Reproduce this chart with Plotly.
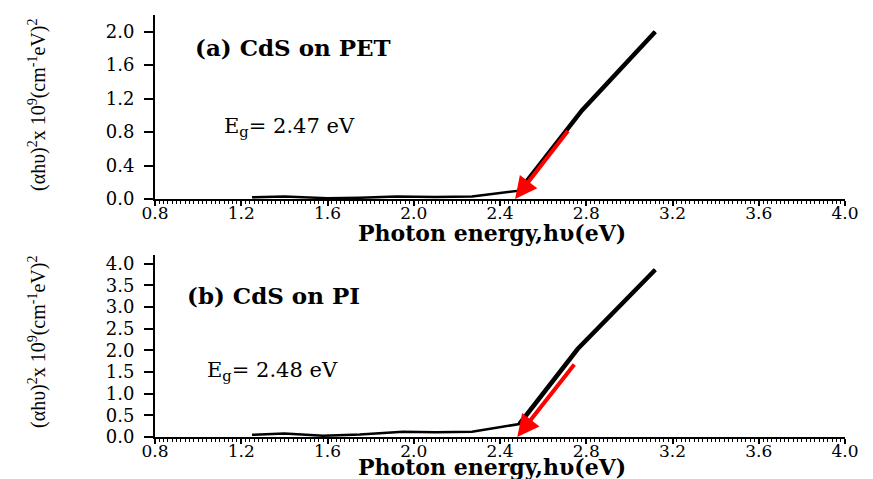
import plotly.graph_objects as go

# ---- data ----
x_pet = [1.25, 1.40, 1.60, 1.75, 1.92, 2.10, 2.27, 2.49, 2.78, 3.12]
y_pet = [0.02, 0.03, 0.01, 0.015, 0.03, 0.025, 0.03, 0.10, 1.06, 2.00]
x_pi = [1.25, 1.40, 1.58, 1.75, 1.95, 2.10, 2.27, 2.49, 2.76, 3.12]
y_pi = [0.05, 0.08, 0.03, 0.06, 0.12, 0.11, 0.12, 0.30, 2.03, 3.86]
rise_start = 7  # index where the linear absorption edge begins

eg_pet = 2.47
eg_pi = 2.48
arrow_pet_from = (2.72, 0.83)
arrow_pi_from = (2.75, 1.71)

panel_a_label = "(a) CdS on PET"
panel_b_label = "(b) CdS on PI"
x_title = "Photon energy,hυ(eV)"
y_title = "(αhυ)<sup>2</sup>x 10<sup>9</sup>(cm<sup>-1</sup>eV)<sup>2</sup>"

W, H = 873, 479
SERIF = "DejaVu Serif"


def px_x(px):
    return px / W


def px_y(py):
    return 1 - py / H


fig = go.Figure()

# panel a
fig.add_trace(go.Scatter(x=x_pet, y=y_pet, mode="lines", line=dict(color="black", width=2.5),
                         xaxis="x", yaxis="y", showlegend=False))
fig.add_trace(go.Scatter(x=x_pet[rise_start:], y=y_pet[rise_start:], mode="lines",
                         line=dict(color="black", width=4.5), xaxis="x", yaxis="y", showlegend=False))
# panel b
fig.add_trace(go.Scatter(x=x_pi, y=y_pi, mode="lines", line=dict(color="black", width=2.5),
                         xaxis="x2", yaxis="y2", showlegend=False))
fig.add_trace(go.Scatter(x=x_pi[rise_start:], y=y_pi[rise_start:], mode="lines",
                         line=dict(color="black", width=4.5), xaxis="x2", yaxis="y2", showlegend=False))

xdom = [px_x(155), px_x(845)]
common_x = dict(range=[0.8, 4.0], dtick=0.4, tick0=0.8, tickformat=".1f", showgrid=False,
                zeroline=False, showline=True, linecolor="black", linewidth=2,
                ticks="outside", ticklen=5, tickwidth=1.5, tickcolor="black",
                minor=dict(dtick=0.02, ticks="outside", ticklen=3, tickwidth=1, tickcolor="black"),
                tickfont=dict(family=SERIF, size=17, color="black"), domain=xdom, automargin=False,
                ticklabelstandoff=-7)
common_y = dict(showgrid=False, zeroline=False, showline=True, linecolor="black", linewidth=2,
                ticks="outside", ticklen=9, tickwidth=1.5, tickcolor="black", tickformat=".1f",
                tickfont=dict(family=SERIF, size=18, color="black"), ticklabelstandoff=6,
                automargin=False)

fig.update_layout(
    width=W, height=H, margin=dict(l=0, r=0, t=0, b=0, autoexpand=False),
    paper_bgcolor="white", plot_bgcolor="white",
    xaxis=dict(anchor="y", **common_x),
    yaxis=dict(anchor="x", range=[0, 2.2], dtick=0.4, tick0=0,
               domain=[px_y(199), px_y(15)], **common_y),
    xaxis2=dict(anchor="y2", **common_x),
    yaxis2=dict(anchor="x2", range=[0, 4.2], dtick=0.5, tick0=0,
                domain=[px_y(437), px_y(255)], **common_y),
)

ann = []
for lab, (px, py) in [(panel_a_label, (193, 48)), (panel_b_label, (185, 295))]:
    ann.append(dict(text=f"<b>{lab}</b>", x=px_x(px), y=px_y(py), xref="paper", yref="paper",
                    xanchor="left", yanchor="middle", showarrow=False,
                    font=dict(family=SERIF, size=23, color="black")))

for eg, (px, py) in [(eg_pet, (222, 127)), (eg_pi, (205, 371))]:
    ann.append(dict(text=f"E<sub>g</sub>= {eg:.2f} eV", x=px_x(px), y=px_y(py), xref="paper",
                    yref="paper", xanchor="left", yanchor="middle", showarrow=False,
                    font=dict(family=SERIF, size=21, color="black")))

for py in (233, 467):
    ann.append(dict(text=f"<b>{x_title}</b>", x=px_x(492), y=px_y(py), xref="paper", yref="paper",
                    xanchor="center", yanchor="middle", showarrow=False,
                    font=dict(family=SERIF, size=22, color="black")))

for py in (105, 342):
    ann.append(dict(text=y_title, x=px_x(37), y=px_y(py), xref="paper", yref="paper",
                    textangle=-90, xanchor="center", yanchor="middle", showarrow=False,
                    font=dict(family="Liberation Serif", size=20, color="black")))

# band-gap extrapolation arrows
for (ax_, ay_), eg, xr, yr in [(arrow_pet_from, eg_pet, "x", "y"), (arrow_pi_from, eg_pi, "x2", "y2")]:
    ann.append(dict(text="", x=eg, y=0, ax=ax_, ay=ay_, xref=xr, yref=yr, axref=xr, ayref=yr,
                    showarrow=True, arrowhead=2, arrowsize=1.1, arrowwidth=4, arrowcolor="red",
                    standoff=0))

fig.update_layout(annotations=ann)
fig.write_html("out.html", post_script="document.body.style.margin='0';",
               config={"displayModeBar": False})
